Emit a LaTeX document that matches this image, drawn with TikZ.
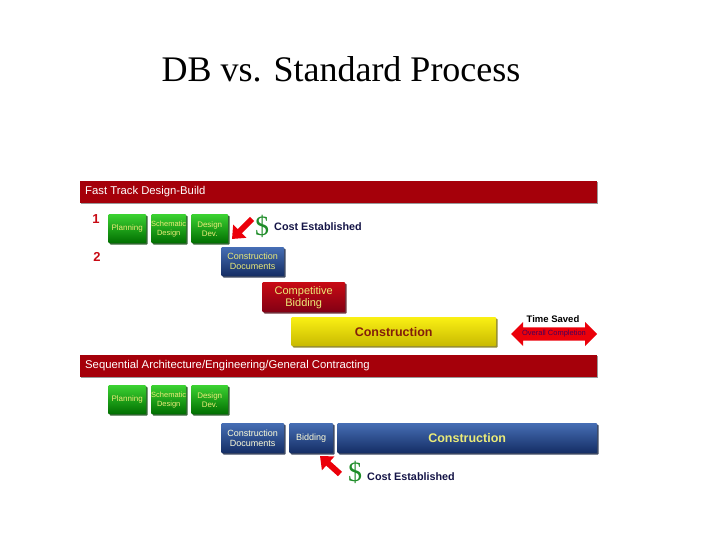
\documentclass[tikz,border=0pt]{standalone}
\usepackage{fontspec}
\setmainfont{Liberation Serif}
\newfontfamily\sansf{Liberation Sans}
\usetikzlibrary{shapes.arrows,arrows.meta,shadows}
\definecolor{hdrred}{RGB}{165,0,10}
\definecolor{grn}{RGB}{20,170,20}
\definecolor{grnlt}{RGB}{60,210,50}
\definecolor{grndk}{RGB}{0,110,0}
\definecolor{blu}{RGB}{45,80,150}
\definecolor{blult}{RGB}{70,110,180}
\definecolor{bludk}{RGB}{20,45,100}
\definecolor{redbx}{RGB}{200,10,20}
\definecolor{redbxdk}{RGB}{130,0,20}
\definecolor{yel}{RGB}{250,240,20}
\definecolor{yeldk}{RGB}{200,185,0}
\definecolor{navy}{RGB}{20,20,70}
\definecolor{txtyel}{RGB}{235,235,120}
\definecolor{conred}{RGB}{130,30,10}
\definecolor{dollar}{RGB}{30,140,40}
\definecolor{arrred}{RGB}{235,0,10}
\definecolor{ovc}{RGB}{70,0,90}
\tikzset{
  box/.style={rectangle, inner sep=0pt, align=center, font=\sansf\fontsize{8}{9}\selectfont, anchor=north west, rounded corners=1pt},
  gbox/.style={box, top color=grnlt, bottom color=grndk, text=txtyel, drop shadow={shadow xshift=1.5pt, shadow yshift=-1.5pt, fill=grndk!60!black, opacity=0.8}},
  bbox/.style={box, top color=blult, bottom color=bludk, text=txtyel, drop shadow={shadow xshift=1.5pt, shadow yshift=-1.5pt, fill=bludk!60!black, opacity=0.8}},
  rbox/.style={box, top color=redbx, bottom color=redbxdk, text=txtyel, font=\sansf\fontsize{11}{12}\selectfont, drop shadow={shadow xshift=1.5pt, shadow yshift=-1.5pt, fill=redbxdk!60!black, opacity=0.8}},
  ybox/.style={box, top color=yel, bottom color=yeldk, text=conred, font=\sansf\bfseries\fontsize{12.5}{13}\selectfont, drop shadow={shadow xshift=1.5pt, shadow yshift=-1.5pt, fill=yeldk!60!black, opacity=0.8}},
  hdr/.style={rectangle, fill=hdrred, anchor=north west, inner sep=0pt, minimum width=517pt, minimum height=22pt, drop shadow={shadow xshift=1pt, shadow yshift=-1pt, fill=black, opacity=0.4}},
  hdrtxt/.style={anchor=west, text=white, font=\sansf\fontsize{11.3}{12}\selectfont, inner sep=0pt},
  num/.style={text=redbx, font=\sansf\bfseries\fontsize{13}{14}\selectfont, inner sep=0pt},
  dol/.style={text=dollar, font=\fontsize{28}{28}\selectfont, inner sep=0pt},
  cost/.style={text=navy, font=\sansf\bfseries\fontsize{10.8}{12}\selectfont, inner sep=0pt, anchor=west},
  fatarrow/.style={draw=arrred, line width=6pt, -{Triangle[width=18pt,length=11pt,fill=arrred]}}
}
\begin{document}
\begin{tikzpicture}[x=1pt,y=-1pt]
\useasboundingbox (0,0) rectangle (720,540);
\node[font=\fontsize{36}{40}\selectfont, inner sep=0pt] (title) at (341,69) {DB vs. Standard Process};

% Fast track
\node[hdr] (h1) at (80,181) {};
\node[hdrtxt] (h1t) at (85,192) {Fast Track Design-Build};
\node[num] (n1) at (96,219) {1};
\node[num] (n2) at (97,257) {2};
\node[gbox, minimum width=38pt, minimum height=29pt] (p1) at (108,214) {Planning};
\node[gbox, minimum width=35pt, minimum height=29pt, font=\sansf\fontsize{7.5}{9}\selectfont] (s1) at (151,214) {Schematic\\Design};
\node[gbox, minimum width=37pt, minimum height=29pt] (d1) at (191,214) {Design\\Dev.};
\coordinate (a1s) at (252,219);
\coordinate (a1e) at (232,239);
\draw[fatarrow] (a1s) -- (a1e);
\node[dol] (dl1) at (262,226) {\$};
\node[cost] (c1) at (274,227) {Cost Established};
\node[bbox, minimum width=63pt, minimum height=29pt, font=\sansf\fontsize{9}{10}\selectfont] (cd1) at (221,247) {Construction\\Documents};
\node[rbox, minimum width=83pt, minimum height=30pt] (cb) at (262,282) {Competitive\\Bidding};
\node[ybox, minimum width=205pt, minimum height=29pt] (con1) at (291,317) {Construction};
\node[font=\sansf\bfseries\fontsize{9.5}{10}\selectfont, inner sep=0pt] (ts) at (553,319) {Time Saved};
\node[double arrow, fill=arrred, minimum width=24pt, inner sep=0pt, minimum height=86pt, double arrow head extend=3pt, double arrow head indent=0pt, font=\sansf\fontsize{7.5}{8}\selectfont, text=ovc] (oc) at (554,334) {Overall Completion};

% Sequential
\node[hdr] (h2) at (80,355) {};
\node[hdrtxt] (h2t) at (85,366) {Sequential Architecture/Engineering/General Contracting};
\node[gbox, minimum width=38pt, minimum height=29pt] (p2) at (108,385) {Planning};
\node[gbox, minimum width=35pt, minimum height=29pt, font=\sansf\fontsize{7.5}{9}\selectfont] (s2) at (151,385) {Schematic\\Design};
\node[gbox, minimum width=37pt, minimum height=29pt] (d2) at (191,385) {Design\\Dev.};
\node[bbox, minimum width=63pt, minimum height=30pt, text=white!85!yellow, font=\sansf\fontsize{9}{10}\selectfont] (cd2) at (221,423) {Construction\\Documents};
\node[bbox, minimum width=44pt, minimum height=30pt, text=white!85!yellow, font=\sansf\fontsize{9}{10}\selectfont] (bd) at (289,423) {Bidding};
\node[bbox, minimum width=260pt, minimum height=30pt, font=\sansf\bfseries\fontsize{12.5}{13}\selectfont, text=txtyel] (con2) at (337,423) {Construction};
\coordinate (a2s) at (340,474);
\coordinate (a2e) at (320,456);
\draw[fatarrow] (a2s) -- (a2e);
\node[dol] (dl2) at (355,472) {\$};
\node[cost] (c2) at (367,477) {Cost Established};
\end{tikzpicture}
\end{document}
